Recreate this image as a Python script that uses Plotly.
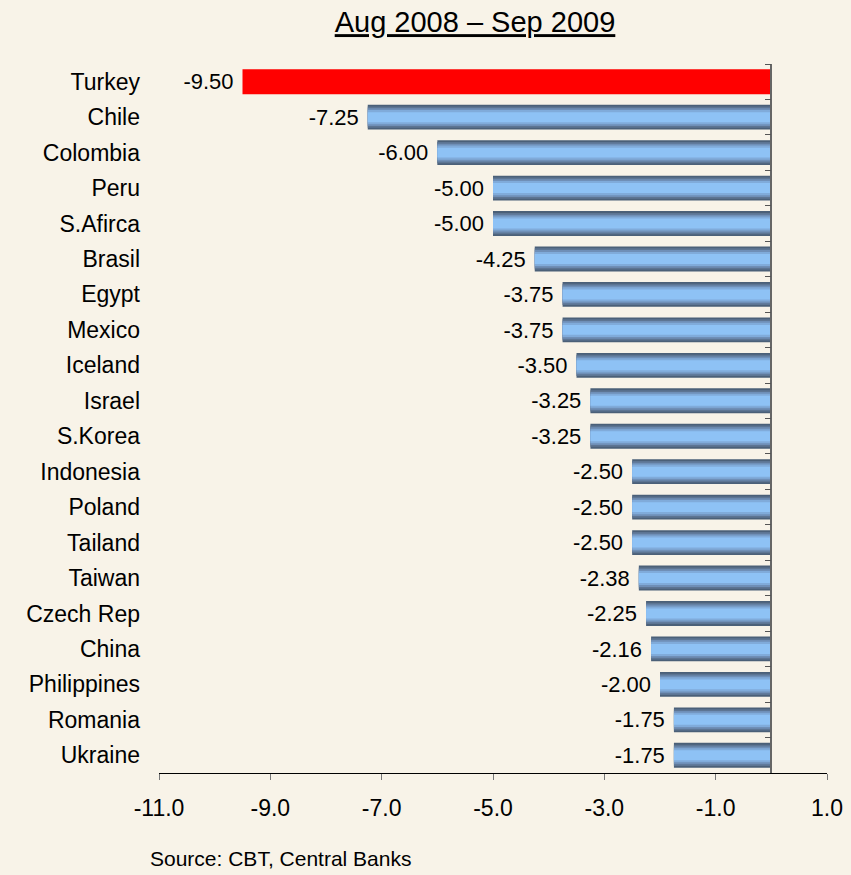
import plotly.graph_objects as go

# ---- data ----
countries = ["Turkey", "Chile", "Colombia", "Peru", "S.Afirca", "Brasil", "Egypt",
             "Mexico", "Iceland", "Israel", "S.Korea", "Indonesia", "Poland",
             "Tailand", "Taiwan", "Czech Rep", "China", "Philippines", "Romania", "Ukraine"]
rate_change = [-9.50, -7.25, -6.00, -5.00, -5.00, -4.25, -3.75, -3.75, -3.50, -3.25,
               -3.25, -2.50, -2.50, -2.50, -2.38, -2.25, -2.16, -2.00, -1.75, -1.75]
highlight = "Turkey"
x_tick_vals = [-11, -9, -7, -5, -3, -1, 1]
x_tick_text = ["-11.0", "-9.0", "-7.0", "-5.0", "-3.0", "-1.0", "1.0"]
title_text = "Aug 2008 – Sep 2009"
source_text = "Source: CBT, Central Banks"

# ---- styling ----
BG = "#f8f3e8"
FONT = "Liberation Sans, Arial, sans-serif"
FS = 23
# gradient layers for the blue bars (outer dark -> inner light)
layers = [(0.70, "#4b6078"), (0.60, "#5d7593"), (0.50, "#6f8fb7"),
          (0.40, "#80abda"), (0.28, "#8ec2f5")]

fig = go.Figure()

base_colors = ["#ff0000" if c == highlight else layers[0][1] for c in countries]
fig.add_trace(go.Bar(
    x=rate_change, y=countries, orientation="h", width=layers[0][0],
    marker=dict(color=base_colors, line=dict(width=0)),
    text=[f"{v:.2f}\u00a0" for v in rate_change], textposition="outside",
    textfont=dict(family=FONT, size=FS, color="black"),
    cliponaxis=False, hoverinfo="skip", showlegend=False))

for w, col in layers[1:]:
    vals = [None if c == highlight else v for c, v in zip(countries, rate_change)]
    fig.add_trace(go.Bar(
        x=vals, y=countries, orientation="h", width=w,
        marker=dict(color=col, line=dict(width=0)),
        hoverinfo="skip", showlegend=False))

# invisible trace to carry the zero-line axis with boundary ticks
fig.add_trace(go.Scatter(
    x=[0] * len(countries), y=countries, yaxis="y2", mode="markers",
    marker=dict(opacity=0), hoverinfo="skip", showlegend=False))

n = len(countries)
x_min, x_max = x_tick_vals[0], x_tick_vals[-1]
fig.update_layout(
    width=851, height=875,
    paper_bgcolor=BG, plot_bgcolor=BG,
    barmode="overlay",
    margin=dict(l=159, r=24, t=64, b=102, autoexpand=False),
    font=dict(family=FONT, size=FS, color="black"),
    title=dict(text=f"<u>{title_text}</u>", x=475 / 851, xref="container",
               xanchor="center", y=1 - 22 / 875, yanchor="middle", yref="container",
               font=dict(family=FONT, size=29, color="black")),
    xaxis=dict(range=[x_min, x_max], tickvals=x_tick_vals, ticktext=x_tick_text,
               showgrid=False, zeroline=False, showline=True, linecolor="black",
               linewidth=1, ticks="outside", ticklen=6, tickcolor="#777777",
               ticklabelstandoff=8, tickfont=dict(size=FS), automargin=False),
    yaxis=dict(type="category", categoryorder="array", categoryarray=countries,
               range=[n - 0.5, -0.5], showgrid=False, zeroline=False,
               showline=False, ticks="", ticklabelstandoff=18,
               tickfont=dict(size=FS), automargin=False),
    yaxis2=dict(type="category", categoryorder="array", categoryarray=countries,
                range=[n - 0.5, -0.5], overlaying="y", anchor="free",
                position=(0 - x_min) / (x_max - x_min), side="left",
                showline=True, linecolor="#666666", linewidth=1.5,
                ticks="outside", tickson="boundaries", ticklen=6,
                tickcolor="#555555", showticklabels=False, showgrid=False,
                zeroline=False, automargin=False),
    annotations=[dict(text=source_text, xref="paper", yref="paper",
                      x=(148 - 159) / 668, y=-(858 - 773) / 709,
                      xanchor="left", yanchor="middle", showarrow=False,
                      font=dict(family=FONT, size=21, color="black"))],
)

fig.write_html("out.html", config={"displayModeBar": False},
               post_script="document.body.style.margin='0';document.body.style.padding='0';")
